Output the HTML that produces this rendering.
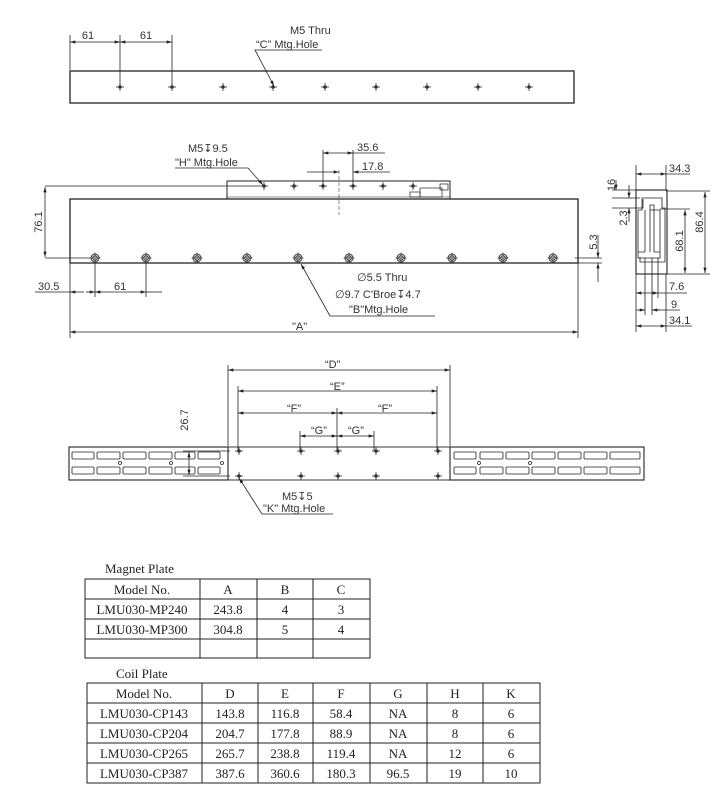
<!DOCTYPE html>
<html><head><meta charset="utf-8"><style>
html,body{margin:0;padding:0;background:#fff;}
svg{display:block}
.t{font-family:"Liberation Sans",sans-serif;font-size:11px;fill:#333}
.s{font-family:"Liberation Serif",serif;font-size:13px;fill:#222}
</style></head><body>
<svg width="719" height="791" viewBox="0 0 719 791" xmlns="http://www.w3.org/2000/svg">
<defs>
<marker id="a" viewBox="0 0 10 6" refX="10" refY="3" markerWidth="8" markerHeight="4" orient="auto-start-reverse"><path d="M0,0 L10,3 L0,6z" fill="#222"/></marker>
<g id="h"><circle r="1.8" fill="#333"/><line x1="-4" y1="0" x2="4" y2="0" stroke="#333" stroke-width="0.8"/><line x1="0" y1="-4" x2="0" y2="4" stroke="#333" stroke-width="0.8"/></g>
<g id="b"><circle r="4" fill="none" stroke="#333" stroke-width="1"/><circle r="2.3" fill="none" stroke="#333" stroke-width="1"/><line x1="-5.5" y1="0" x2="5.5" y2="0" stroke="#333" stroke-width="0.7"/><line x1="0" y1="-5.5" x2="0" y2="5.5" stroke="#333" stroke-width="0.7"/></g>
</defs>
<g stroke="#222" fill="none" stroke-width="0.8">
<!-- TOP VIEW -->
<rect x="70" y="71" width="504" height="32" stroke-width="1.3"/>
<line x1="70" y1="35" x2="70" y2="70"/><line x1="120" y1="35" x2="120" y2="87"/><line x1="172" y1="35" x2="172" y2="87"/>
<line x1="70" y1="42" x2="120" y2="42" marker-start="url(#a)" marker-end="url(#a)"/>
<line x1="120" y1="42" x2="172" y2="42" marker-start="url(#a)" marker-end="url(#a)"/>
<polyline points="322,50 255,50 274,86" marker-end="url(#a)"/>
<!-- MIDDLE -->
<rect x="70" y="199" width="508" height="64" stroke-width="1.3"/>
<rect x="227" y="181" width="223" height="18" stroke-width="1"/>
<line x1="227" y1="197" x2="450" y2="197" stroke-width="0.6"/>
<rect x="420" y="188" width="22" height="9" stroke-width="0.7"/><rect x="410" y="192" width="10" height="5" stroke-width="0.7"/><rect x="440" y="184" width="8" height="6" stroke-width="0.7"/>
<line x1="339" y1="170" x2="339" y2="215" stroke-dasharray="4,2" stroke-width="0.5"/>
<line x1="45" y1="186" x2="260" y2="186"/><line x1="45" y1="258" x2="90" y2="258"/>
<line x1="45" y1="187" x2="45" y2="257" marker-start="url(#a)" marker-end="url(#a)"/>
<line x1="323" y1="150" x2="323" y2="186"/><line x1="353" y1="150" x2="353" y2="186"/>
<line x1="323" y1="153" x2="353" y2="153" marker-start="url(#a)" marker-end="url(#a)"/><line x1="353" y1="153" x2="385" y2="153"/>
<line x1="307" y1="172" x2="339" y2="172" marker-end="url(#a)"/><line x1="390" y1="172" x2="353" y2="172" marker-end="url(#a)"/>
<polyline points="175,168 248,168 263,185" marker-end="url(#a)"/>
<line x1="70" y1="263" x2="70" y2="338"/><line x1="95" y1="263" x2="95" y2="297"/><line x1="146" y1="263" x2="146" y2="297"/><line x1="578" y1="263" x2="578" y2="338"/>
<line x1="35" y1="292" x2="70" y2="292"/><line x1="86" y1="292" x2="95" y2="292" marker-end="url(#a)"/><line x1="84" y1="292" x2="70" y2="292" marker-end="url(#a)"/>
<line x1="95" y1="292" x2="146" y2="292" marker-start="url(#a)" marker-end="url(#a)"/><line x1="146" y1="292" x2="162" y2="292"/>
<polyline points="435,316 330,316 301,264" marker-end="url(#a)"/>
<line x1="70" y1="332" x2="578" y2="332" marker-start="url(#a)" marker-end="url(#a)"/>
<line x1="575" y1="258" x2="602" y2="258"/><line x1="575" y1="263" x2="602" y2="263"/>
<line x1="598" y1="235" x2="598" y2="258" marker-end="url(#a)"/><line x1="598" y1="282" x2="598" y2="263" marker-end="url(#a)"/>
<!-- SIDE VIEW -->
<rect x="636" y="190" width="31" height="84" stroke-width="1.1"/>
<path d="M642,199 L642,210 L638,210 L638,258 L660,258 L660,210 L650,210 L650,205 L654,205 L654,210 M645,210 L645,252 M650,210 L650,252 M654,210 L654,252 L660,252 M645,252 L638,252" stroke-width="0.8"/>
<path d="M641,198 L662,198 L662,208 L665,208 L665,262 L640,262 L640,257" stroke-width="0.8"/>
<path d="M640,208 L643,208 L643,199" stroke-width="0.8"/>
<line x1="645" y1="258" x2="645" y2="315"/><line x1="652" y1="258" x2="652" y2="315"/><line x1="658" y1="258" x2="658" y2="298"/>
<line x1="636" y1="165" x2="636" y2="190"/><line x1="666" y1="165" x2="666" y2="190"/>
<line x1="636" y1="174" x2="666" y2="174" marker-start="url(#a)" marker-end="url(#a)"/><line x1="666" y1="174" x2="690" y2="174"/>
<line x1="666" y1="191" x2="710" y2="191"/><line x1="666" y1="274" x2="710" y2="274"/><line x1="660" y1="209" x2="690" y2="209"/>
<line x1="705" y1="192" x2="705" y2="273" marker-start="url(#a)" marker-end="url(#a)"/>
<line x1="685" y1="210" x2="685" y2="273" marker-start="url(#a)" marker-end="url(#a)"/>
<line x1="612" y1="190" x2="636" y2="190"/><line x1="612" y1="198" x2="640" y2="198"/><line x1="612" y1="208" x2="640" y2="208"/>
<line x1="616" y1="180" x2="616" y2="190" marker-end="url(#a)"/><line x1="629" y1="185" x2="629" y2="198" marker-end="url(#a)"/><line x1="629" y1="222" x2="629" y2="208" marker-end="url(#a)"/>
<line x1="636" y1="274" x2="636" y2="332"/><line x1="666" y1="274" x2="666" y2="332"/>
<line x1="636" y1="293" x2="658" y2="293" marker-start="url(#a)" marker-end="url(#a)"/><line x1="658" y1="293" x2="687" y2="293"/>
<line x1="636" y1="310" x2="645" y2="310" marker-end="url(#a)"/><line x1="660" y1="310" x2="652" y2="310" marker-end="url(#a)"/><line x1="652" y1="310" x2="680" y2="310"/>
<line x1="636" y1="326" x2="666" y2="326" marker-start="url(#a)" marker-end="url(#a)"/><line x1="666" y1="326" x2="692" y2="326"/>
<!-- BOTTOM VIEW -->
<rect x="69" y="447" width="159" height="33" stroke-width="1.1"/>
<rect x="228" y="447" width="222" height="33" stroke-width="0.9"/>
<rect x="450" y="447" width="194" height="33" stroke-width="1.1"/>
<g stroke-width="0.8">
<rect x="72" y="452" width="22" height="7" rx="1"/><rect x="97" y="452" width="23" height="7" rx="1"/><rect x="123" y="452" width="23" height="7" rx="1"/><rect x="149" y="452" width="23" height="7" rx="1"/><rect x="175" y="452" width="20" height="7" rx="1"/><rect x="198" y="452" width="22" height="7" rx="1"/>
<rect x="72" y="467" width="22" height="7" rx="1"/><rect x="97" y="467" width="23" height="7" rx="1"/><rect x="123" y="467" width="23" height="7" rx="1"/><rect x="149" y="467" width="23" height="7" rx="1"/><rect x="175" y="467" width="20" height="7" rx="1"/><rect x="198" y="467" width="22" height="7" rx="1"/>
<rect x="454" y="452" width="22" height="7" rx="1"/><rect x="480" y="452" width="23" height="7" rx="1"/><rect x="506" y="452" width="23" height="7" rx="1"/><rect x="532" y="452" width="23" height="7" rx="1"/><rect x="558" y="452" width="23" height="7" rx="1"/><rect x="584" y="452" width="23" height="7" rx="1"/><rect x="610" y="452" width="30" height="7" rx="1"/>
<rect x="454" y="467" width="22" height="7" rx="1"/><rect x="480" y="467" width="23" height="7" rx="1"/><rect x="506" y="467" width="23" height="7" rx="1"/><rect x="532" y="467" width="23" height="7" rx="1"/><rect x="558" y="467" width="23" height="7" rx="1"/><rect x="584" y="467" width="23" height="7" rx="1"/><rect x="610" y="467" width="30" height="7" rx="1"/>
<circle cx="120" cy="463" r="1.5"/><circle cx="171" cy="463" r="1.5"/><circle cx="222" cy="463" r="1.5"/><circle cx="479" cy="463" r="1.5"/><circle cx="530" cy="463" r="1.5"/>
</g>
<line x1="228" y1="365" x2="228" y2="446"/><line x1="450" y1="365" x2="450" y2="446"/>
<line x1="238" y1="386" x2="238" y2="451"/><line x1="437" y1="386" x2="437" y2="451"/>
<line x1="337" y1="408" x2="337" y2="451"/><line x1="300" y1="431" x2="300" y2="451"/><line x1="374" y1="431" x2="374" y2="451"/>
<line x1="228" y1="370" x2="450" y2="370" marker-start="url(#a)" marker-end="url(#a)"/>
<line x1="238" y1="391" x2="437" y2="391" marker-start="url(#a)" marker-end="url(#a)"/>
<line x1="238" y1="413" x2="337" y2="413" marker-start="url(#a)" marker-end="url(#a)"/>
<line x1="337" y1="413" x2="437" y2="413" marker-start="url(#a)" marker-end="url(#a)"/>
<line x1="300" y1="436" x2="337" y2="436" marker-start="url(#a)" marker-end="url(#a)"/>
<line x1="337" y1="436" x2="374" y2="436" marker-start="url(#a)" marker-end="url(#a)"/>
<line x1="183" y1="451" x2="230" y2="451"/><line x1="183" y1="476" x2="230" y2="476"/>
<line x1="189" y1="452" x2="189" y2="475" marker-start="url(#a)" marker-end="url(#a)"/>
<polyline points="333,514 262,514 239,478" marker-end="url(#a)"/>
<!-- TABLES -->
<g stroke="#222" stroke-width="1">
<rect x="85" y="579" width="285" height="79"/>
<line x1="85" y1="599" x2="370" y2="599"/><line x1="85" y1="619" x2="370" y2="619"/><line x1="85" y1="639" x2="370" y2="639"/>
<line x1="200" y1="579" x2="200" y2="658"/><line x1="257" y1="579" x2="257" y2="658"/><line x1="313" y1="579" x2="313" y2="658"/>
<rect x="87" y="683" width="453" height="100"/>
<line x1="87" y1="703" x2="540" y2="703"/><line x1="87" y1="723" x2="540" y2="723"/><line x1="87" y1="743" x2="540" y2="743"/><line x1="87" y1="763" x2="540" y2="763"/>
<line x1="202" y1="683" x2="202" y2="783"/><line x1="258" y1="683" x2="258" y2="783"/><line x1="313" y1="683" x2="313" y2="783"/><line x1="370" y1="683" x2="370" y2="783"/><line x1="427" y1="683" x2="427" y2="783"/><line x1="483" y1="683" x2="483" y2="783"/>
</g>
</g>
<!-- holes -->
<g>
<use href="#h" x="120" y="87"/><use href="#h" x="172" y="87"/><use href="#h" x="223" y="87"/><use href="#h" x="273" y="87"/><use href="#h" x="325" y="87"/><use href="#h" x="376" y="87"/><use href="#h" x="427" y="87"/><use href="#h" x="478" y="87"/><use href="#h" x="529" y="87"/>
<use href="#h" x="264" y="186"/><use href="#h" x="294" y="186"/><use href="#h" x="323" y="186"/><use href="#h" x="353" y="186"/><use href="#h" x="383" y="186"/><use href="#h" x="413" y="186"/>
<use href="#b" x="95" y="258"/><use href="#b" x="146" y="258"/><use href="#b" x="197" y="258"/><use href="#b" x="247" y="258"/><use href="#b" x="298" y="258"/><use href="#b" x="349" y="258"/><use href="#b" x="401" y="258"/><use href="#b" x="452" y="258"/><use href="#b" x="503" y="258"/><use href="#b" x="553" y="258"/>
<use href="#h" x="239" y="451"/><use href="#h" x="301" y="451"/><use href="#h" x="338" y="451"/><use href="#h" x="376" y="451"/><use href="#h" x="438" y="451"/>
<use href="#h" x="239" y="476"/><use href="#h" x="301" y="476"/><use href="#h" x="338" y="476"/><use href="#h" x="376" y="476"/><use href="#h" x="438" y="476"/>
</g>
<!-- text -->
<g class="t">
<text x="88" y="39" text-anchor="middle">61</text><text x="146" y="39" text-anchor="middle">61</text>
<text x="290" y="34">M5 Thru</text><text x="256" y="48">“C” Mtg.Hole</text>
<text x="188" y="152">M5&#x21A7;9.5</text><text x="175" y="166">"H" Mtg.Hole</text>
<text x="357" y="151">35.6</text><text x="362" y="170">17.8</text>
<text transform="translate(42,222) rotate(-90)" text-anchor="middle">76.1</text>
<text x="38" y="290">30.5</text><text x="114" y="290">61</text>
<text x="357" y="281">&#x2205;5.5 Thru</text>
<text x="335" y="298">&#x2205;9.7 C'Broe&#x21A7;4.7</text>
<text x="349" y="313">"B"Mtg.Hole</text>
<text x="292" y="330">"A"</text>
<text transform="translate(597,242) rotate(-90)" text-anchor="middle">5.3</text>
<text x="669" y="172">34.3</text>
<text transform="translate(615,185) rotate(-90)" text-anchor="middle">16</text>
<text transform="translate(627,218) rotate(-90)" text-anchor="middle">2.3</text>
<text transform="translate(683,241) rotate(-90)" text-anchor="middle">68.1</text>
<text transform="translate(703,222) rotate(-90)" text-anchor="middle">86.4</text>
<text x="669" y="290">7.6</text><text x="671" y="308">9</text><text x="669" y="324">34.1</text>
<text x="325" y="368">“D”</text><text x="330" y="390">“E”</text>
<text x="287" y="412">“F”</text><text x="378" y="412">“F”</text>
<text x="311" y="434">“G”</text><text x="348" y="434">“G”</text>
<text transform="translate(188,420) rotate(-90)" text-anchor="middle">26.7</text>
<text x="282" y="500">M5&#x21A7;5</text><text x="263" y="512">"K" Mtg.Hole</text>
</g>
<g class="s">
<text x="105" y="573">Magnet Plate</text>
<text x="142" y="594" text-anchor="middle">Model No.</text><text x="228" y="594" text-anchor="middle">A</text><text x="285" y="594" text-anchor="middle">B</text><text x="341" y="594" text-anchor="middle">C</text>
<text x="142" y="614" text-anchor="middle">LMU030-MP240</text><text x="228" y="614" text-anchor="middle">243.8</text><text x="285" y="614" text-anchor="middle">4</text><text x="341" y="614" text-anchor="middle">3</text>
<text x="142" y="634" text-anchor="middle">LMU030-MP300</text><text x="228" y="634" text-anchor="middle">304.8</text><text x="285" y="634" text-anchor="middle">5</text><text x="341" y="634" text-anchor="middle">4</text>
<text x="116" y="678">Coil Plate</text>
<text x="144" y="698" text-anchor="middle">Model No.</text><text x="230" y="698" text-anchor="middle">D</text><text x="285" y="698" text-anchor="middle">E</text><text x="341" y="698" text-anchor="middle">F</text><text x="398" y="698" text-anchor="middle">G</text><text x="455" y="698" text-anchor="middle">H</text><text x="511" y="698" text-anchor="middle">K</text>
<text x="144" y="718" text-anchor="middle">LMU030-CP143</text><text x="230" y="718" text-anchor="middle">143.8</text><text x="285" y="718" text-anchor="middle">116.8</text><text x="341" y="718" text-anchor="middle">58.4</text><text x="398" y="718" text-anchor="middle">NA</text><text x="455" y="718" text-anchor="middle">8</text><text x="511" y="718" text-anchor="middle">6</text>
<text x="144" y="738" text-anchor="middle">LMU030-CP204</text><text x="230" y="738" text-anchor="middle">204.7</text><text x="285" y="738" text-anchor="middle">177.8</text><text x="341" y="738" text-anchor="middle">88.9</text><text x="398" y="738" text-anchor="middle">NA</text><text x="455" y="738" text-anchor="middle">8</text><text x="511" y="738" text-anchor="middle">6</text>
<text x="144" y="758" text-anchor="middle">LMU030-CP265</text><text x="230" y="758" text-anchor="middle">265.7</text><text x="285" y="758" text-anchor="middle">238.8</text><text x="341" y="758" text-anchor="middle">119.4</text><text x="398" y="758" text-anchor="middle">NA</text><text x="455" y="758" text-anchor="middle">12</text><text x="511" y="758" text-anchor="middle">6</text>
<text x="144" y="778" text-anchor="middle">LMU030-CP387</text><text x="230" y="778" text-anchor="middle">387.6</text><text x="285" y="778" text-anchor="middle">360.6</text><text x="341" y="778" text-anchor="middle">180.3</text><text x="398" y="778" text-anchor="middle">96.5</text><text x="455" y="778" text-anchor="middle">19</text><text x="511" y="778" text-anchor="middle">10</text>
</g>
</svg>
</body></html>
